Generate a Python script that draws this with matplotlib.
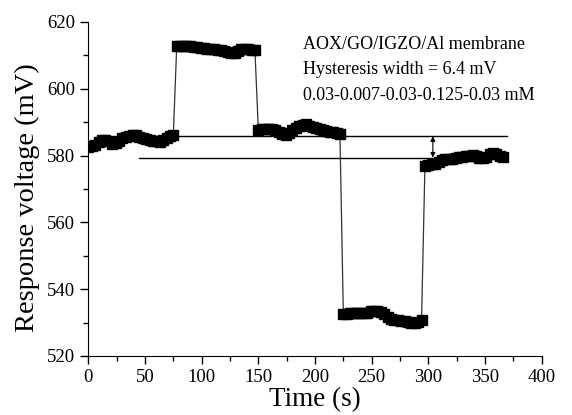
import numpy as np
import matplotlib
matplotlib.use('Agg')
import matplotlib.pyplot as plt
from matplotlib.ticker import MultipleLocator

# sampling every 3 s
time = np.arange(0, 369, 3)

seg1 = [582.5, 582.8, 583.3, 584.0, 584.6, 584.8, 584.5, 583.6, 583.8, 584.5,
        585.2, 585.7, 586.0, 586.2, 586.1, 585.7, 585.4, 585.0, 584.8, 584.5,
        584.3, 584.2, 584.6, 585.3, 585.8, 586.2]
seg2 = [612.8, 612.9, 612.9, 612.8, 612.7, 612.6, 612.5, 612.3, 612.2, 612.0,
        611.9, 611.8, 611.7, 611.5, 611.3, 611.0, 610.6, 610.6, 611.2, 611.8,
        612.0, 611.8, 611.6, 611.5]
seg3 = [587.8, 587.9, 588.0, 588.1, 588.0, 587.6, 587.0, 586.5, 586.3, 586.8,
        587.6, 588.3, 588.8, 589.3, 589.4, 589.0, 588.6, 588.3, 588.0, 587.7,
        587.3, 587.1, 587.0, 586.8, 586.6]
seg4 = [532.6, 532.7, 532.8, 532.9, 532.8, 532.9, 532.8, 533.0, 533.4, 533.5,
        533.5, 533.2, 532.6, 531.8, 531.0, 530.7, 530.7, 530.6, 530.4, 530.2,
        530.0, 529.9, 530.3, 530.8]
seg5 = [577.0, 577.2, 577.4, 577.6, 578.2, 578.8, 579.0, 578.9, 579.0, 579.3,
        579.5, 579.6, 579.8, 580.0, 580.1, 579.8, 579.3, 579.2, 579.6, 580.4,
        580.9, 580.6, 580.0, 579.6]
voltage = np.array(seg1 + seg2 + seg3 + seg4 + seg5)

# hysteresis reference lines (level, start time, end time)
upper_level, upper_start = 585.8, 78
lower_level, lower_start = 579.4, 45
line_end = 369
arrow_t = 304

labels = ['AOX/GO/IGZO/Al membrane', 'Hysteresis width = 6.4 mV',
          '0.03-0.007-0.03-0.125-0.03 mM']

plt.rcParams['font.family'] = ['Liberation Serif', 'DejaVu Serif']

fig = plt.figure(figsize=(5.72, 4.15), dpi=100)
ax = fig.add_axes([0.1544, 0.1422, 0.7926, 0.8048])

ax.plot(time, voltage, color='#333333', lw=0.9, marker='s', ms=6.5,
        mfc='black', mec='black', zorder=3)
ax.plot([upper_start, line_end], [upper_level, upper_level], color='black', lw=1)
ax.plot([lower_start, line_end], [lower_level, lower_level], color='black', lw=1)
ax.annotate('', xy=(arrow_t, lower_level), xytext=(arrow_t, upper_level),
            arrowprops=dict(arrowstyle='<|-|>', color='black', lw=0.8,
                            mutation_scale=7, shrinkA=0, shrinkB=0))

text_y = [613.4, 605.8, 598.1]
for s, y in zip(labels, text_y):
    ax.text(189, y, s, fontsize=13, va='center', ha='left')

ax.set_xlim(0, 400)
ax.set_ylim(520, 620)
ax.xaxis.set_major_locator(MultipleLocator(50))
ax.xaxis.set_minor_locator(MultipleLocator(25))
ax.yaxis.set_major_locator(MultipleLocator(20))
ax.yaxis.set_minor_locator(MultipleLocator(10))
ax.spines['top'].set_visible(False)
ax.spines['right'].set_visible(False)
ax.tick_params(which='major', length=6, width=1, labelsize=13.5, direction='out')
ax.tick_params(which='minor', length=3.5, width=1, direction='out')
ax.set_xlabel('Time (s)', fontsize=19.5, labelpad=0.5)
ax.set_ylabel('Response voltage (mV)', fontsize=20.5)
ax.yaxis.set_label_coords(-0.107, 0.473)

fig.savefig('out.png', dpi=100)
